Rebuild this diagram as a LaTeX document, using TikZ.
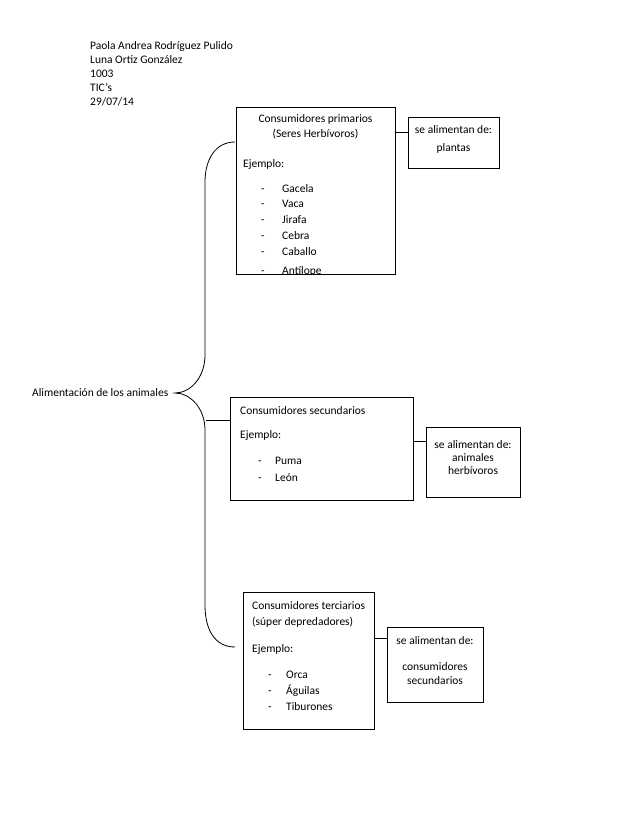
\documentclass[tikz,border=0pt]{standalone}
\usepackage{fontspec}
\setmainfont{Carlito}
\begin{document}
\begin{tikzpicture}[x=1pt,y=-1pt,
  box/.style={draw=black, line width=0.8pt, anchor=north west, inner sep=0pt},
  txt/.style={anchor=mid west, inner sep=0pt, yshift=-1.8pt, font=\fontsize{11.5}{13}\selectfont},
  ctxt/.style={anchor=mid, inner sep=0pt, yshift=-1.8pt, font=\fontsize{11.5}{13}\selectfont},
  conn/.style={draw=black, line width=0.8pt},
  brace/.style={draw=black, line width=0.8pt}]
\useasboundingbox (0,0) rectangle (638,826);
% header
\node[txt] (h1) at (90,45) {Paola Andrea Rodríguez Pulido};
\node[txt] (h2) at (90,59) {Luna Ortiz González};
\node[txt] (h3) at (90,73) {1003};
\node[txt] (h4) at (90,87) {TIC’s};
\node[txt] (h5) at (90,101) {29/07/14};
% main label
\node[txt] (main) at (32,392) {Alimentación de los animales};
% brace
\coordinate (bt) at (235,142);
\coordinate (bm) at (175,393);
\coordinate (bb) at (235,647);
\draw[brace] (bt) .. controls (215,142) and (205,160) .. (205,182) -- (205,355)
  .. controls (205,378) and (190,393) .. (bm)
  .. controls (190,393) and (205,408) .. (205,430) -- (205,605)
  .. controls (205,630) and (215,647) .. (bb);
% box 1
\node[box, minimum width=159pt, minimum height=167pt] (b1) at (236,107) {};
\node[ctxt] (b1t1) at (315.5,118) {Consumidores primarios};
\node[ctxt] (b1t2) at (315.5,133) {(Seres Herbívoros)};
\node[txt] (b1e) at (243,163) {Ejemplo:};
\node[txt] (b1d1) at (261,188) {-}; \node[txt] (b1i1) at (282,188) {Gacela};
\node[txt] (b1d2) at (261,203.5) {-}; \node[txt] (b1i2) at (282,203.5) {Vaca};
\node[txt] (b1d3) at (261,219) {-}; \node[txt] (b1i3) at (282,219) {Jirafa};
\node[txt] (b1d4) at (261,235) {-}; \node[txt] (b1i4) at (282,235) {Cebra};
\node[txt] (b1d5) at (261,251) {-}; \node[txt] (b1i5) at (282,251) {Caballo};
\begin{scope}
\clip (236,107) rectangle (395,273);
\node[txt] (b1d6) at (261,270) {-}; \node[txt] (b1i6) at (282,270) {Antílope};
\end{scope}
% box 1b
\node[box, minimum width=91pt, minimum height=51pt] (p1) at (408,117) {};
\node[ctxt] (p1t1) at (453.5,129) {se alimentan de:};
\node[ctxt] (p1t2) at (453.5,147) {plantas};
\coordinate (c1) at (395,132);
\draw[conn] (c1) -- (c1 -| p1.west);
% box 2
\node[box, minimum width=183pt, minimum height=103pt] (b2) at (230,397) {};
\node[txt] (b2t1) at (240,410) {Consumidores secundarios};
\node[txt] (b2e) at (240,434) {Ejemplo:};
\node[txt] (b2d1) at (258,460) {-}; \node[txt] (b2i1) at (275,460) {Puma};
\node[txt] (b2d2) at (258,477) {-}; \node[txt] (b2i2) at (275,477) {León};
\coordinate (c2a) at (206,420);
\draw[conn] (c2a) -- (c2a -| b2.west);
% box 2b
\node[box, minimum width=94pt, minimum height=70pt] (p2) at (426,427) {};
\node[ctxt] (p2t1) at (473,444) {se alimentan de:};
\node[ctxt] (p2t2) at (473,457) {animales};
\node[ctxt] (p2t3) at (473,470) {herbívoros};
\coordinate (c2) at (413,441);
\draw[conn] (c2) -- (c2 -| p2.west);
% box 3
\node[box, minimum width=131pt, minimum height=137pt] (b3) at (243,592) {};
\node[txt] (b3t1) at (252,605) {Consumidores terciarios};
\node[txt] (b3t2) at (252,621) {(súper depredadores)};
\node[txt] (b3e) at (252,648) {Ejemplo:};
\node[txt] (b3d1) at (268,674) {-}; \node[txt] (b3i1) at (286,674) {Orca};
\node[txt] (b3d2) at (268,690) {-}; \node[txt] (b3i2) at (286,690) {Águilas};
\node[txt] (b3d3) at (268,706) {-}; \node[txt] (b3i3) at (286,706) {Tiburones};
% box 3b
\node[box, minimum width=96pt, minimum height=75pt] (p3) at (387,627) {};
\node[ctxt] (p3t1) at (435,640) {se alimentan de:};
\node[ctxt] (p3t2) at (435,666) {consumidores};
\node[ctxt] (p3t3) at (435,680) {secundarios};
\coordinate (c3) at (374,638);
\draw[conn] (c3) -- (c3 -| p3.west);
\end{tikzpicture}
\end{document}
